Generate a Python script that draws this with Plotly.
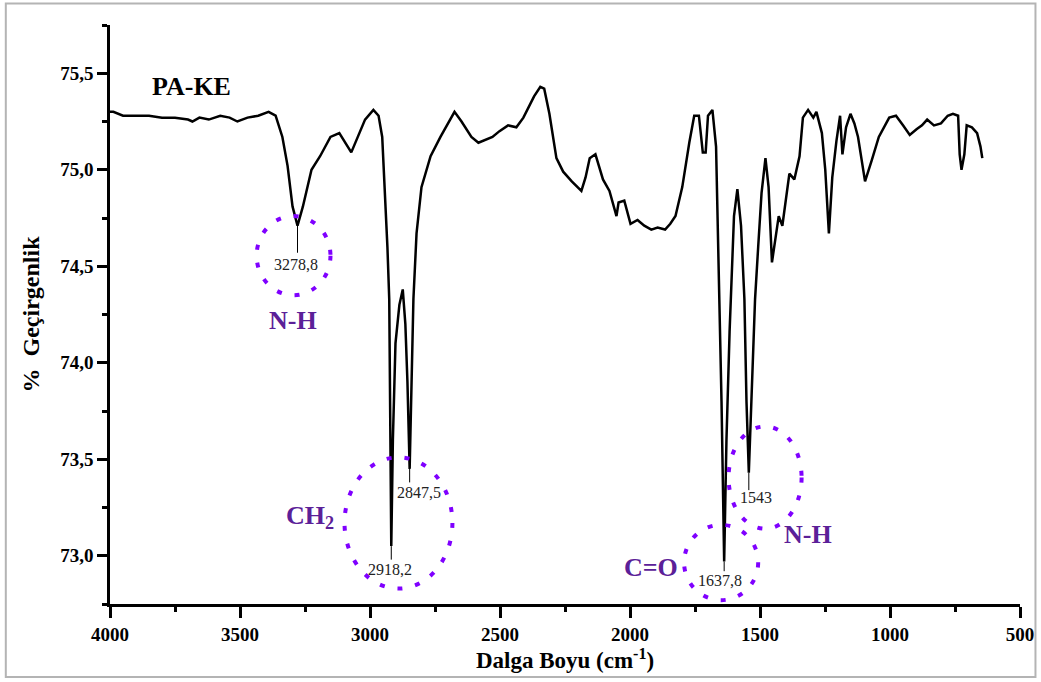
import plotly.graph_objects as go

# ---------------- data ----------------
wavenumber = [4000, 3987, 3950, 3894, 3850, 3800, 3750, 3700, 3683, 3656, 3620, 3576, 3540, 3510, 3471, 3430,
              3390, 3363, 3337, 3317, 3298, 3278.8, 3258, 3225, 3192, 3152, 3118, 3072, 3019, 2987, 2967,
              2953, 2940, 2933, 2926, 2923, 2918.2, 2912, 2902, 2887, 2874, 2864, 2856, 2847.5, 2840, 2833,
              2821, 2802, 2767, 2729, 2675, 2648, 2610, 2583, 2529, 2502, 2469, 2437, 2410, 2369, 2345, 2330,
              2310, 2283, 2257, 2224, 2187, 2171, 2155, 2133, 2104, 2079, 2052, 2044, 2022, 1998, 1971, 1945,
              1918, 1894, 1865, 1845, 1825, 1799, 1772, 1753, 1735, 1720, 1709, 1700, 1683, 1669, 1660, 1648,
              1637.8, 1629, 1617, 1600, 1587, 1573, 1560, 1552, 1543, 1533, 1519, 1507, 1494, 1479, 1467,
              1454, 1441, 1428, 1414, 1402, 1387, 1368, 1348, 1335, 1315, 1295, 1283, 1262, 1249, 1235, 1222,
              1206, 1192, 1183, 1169, 1152, 1137, 1123, 1096, 1070, 1043, 1003, 977, 950, 924, 898, 877, 857,
              831, 804, 778, 758, 738, 732, 725, 714, 705, 685, 665, 652, 645]
transmittance = [75.30, 75.30, 75.28, 75.28, 75.28, 75.27, 75.27, 75.26, 75.25, 75.27, 75.26, 75.28, 75.27, 75.25, 75.27, 75.28,
                 75.30, 75.28, 75.17, 75.02, 74.81, 74.71, 74.81, 75.00, 75.07, 75.17, 75.19, 75.09, 75.26, 75.31, 75.28,
                 75.17, 74.84, 74.60, 74.33, 73.80, 73.05, 73.60, 74.10, 74.30, 74.38, 74.20, 73.90, 73.45, 73.90, 74.33,
                 74.67, 74.91, 75.07, 75.17, 75.30, 75.25, 75.17, 75.14, 75.17, 75.20, 75.23, 75.22, 75.27, 75.38, 75.43, 75.42,
                 75.29, 75.06, 74.99, 74.94, 74.89, 74.96, 75.06, 75.08, 74.95, 74.89, 74.76, 74.83, 74.84, 74.72, 74.74, 74.71,
                 74.69, 74.70, 74.69, 74.72, 74.76, 74.91, 75.14, 75.28, 75.28, 75.09, 75.09, 75.28, 75.31, 75.12, 74.55, 73.80,
                 72.97, 73.60, 74.16, 74.76, 74.90, 74.71, 74.33, 73.80, 73.43, 73.80, 74.33, 74.60, 74.88, 75.06, 74.91,
                 74.52, 74.65, 74.76, 74.71, 74.83, 74.98, 74.95, 75.07, 75.27, 75.31, 75.27, 75.30, 75.19, 75.00, 74.67, 74.96,
                 75.15, 75.28, 75.08, 75.22, 75.29, 75.24, 75.17, 74.94, 75.05, 75.17, 75.27, 75.28, 75.23, 75.18, 75.21, 75.23, 75.26,
                 75.23, 75.24, 75.28, 75.29, 75.28, 75.08, 75.00, 75.08, 75.23, 75.22, 75.19, 75.12, 75.06]

x_tickvals = [4000, 3500, 3000, 2500, 2000, 1500, 1000, 500]
x_ticktext = ["4000", "3500", "3000", "2500", "2000", "1500", "1000", "500"]
y_tickvals = [73.0, 73.5, 74.0, 74.5, 75.0, 75.5]
y_ticktext = ["73,0", "73,5", "74,0", "74,5", "75,0", "75,5"]

peak_wn = [3278.8, 2918.2, 2847.5, 1637.8, 1543]
peak_T = [74.71, 73.05, 73.45, 72.97, 73.43]
leader_end_T = [74.57, 72.98, 73.38, 72.92, 73.34]
peak_labels = ["3278,8", "2918,2", "2847,5", "1637,8", "1543"]
peak_label_wn = [3283, 2925, 2810, 1652, 1517]
peak_label_T = [74.51, 72.93, 73.33, 72.87, 73.30]

group_labels = ["N-H", "CH<sub>2</sub>", "C=O", "N-H"]
group_label_wn = [3295, 3232, 1921, 1317]
group_label_T = [74.22, 73.20, 72.94, 73.11]

# ellipses: (wn_left, wn_right, T_bottom, T_top)
ellipse_wn_left = [3436, 3098, 1792, 1621]
ellipse_wn_right = [3152, 2683, 1507, 1340]
ellipse_T_bottom = [74.35, 72.83, 72.77, 73.14]
ellipse_T_top = [74.76, 73.51, 73.16, 73.67]

sample_name = "PA-KE"
sample_wn = 3686
sample_T = 75.43

# ---------------- figure ----------------
SERIF = "Liberation Serif, Times New Roman, serif"
PURPLE_LINE = "#7F00FF"
PURPLE_TEXT = "#5B2098"

fig = go.Figure()
fig.add_trace(go.Scatter(x=wavenumber, y=transmittance, mode="lines",
                         line=dict(color="black", width=2.5), showlegend=False, hoverinfo="skip"))

shapes = []
for w, t0, t1 in zip(peak_wn, peak_T, leader_end_T):
    shapes.append(dict(type="line", xref="x", yref="y", x0=w, x1=w, y0=t0, y1=t1,
                       line=dict(color="black", width=1)))
for xl, xr, yb, yt in zip(ellipse_wn_left, ellipse_wn_right, ellipse_T_bottom, ellipse_T_top):
    shapes.append(dict(type="circle", xref="x", yref="y", x0=xl, x1=xr, y0=yb, y1=yt,
                       line=dict(color=PURPLE_LINE, width=4, dash="5px,13px")))
# outer frame of the picture
shapes.append(dict(type="rect", xref="paper", yref="paper", x0=-0.1145, x1=1.017, y0=-0.126, y1=1.037,
                   line=dict(color="#b4b4b4", width=2), layer="below"))

annotations = []
for txt, w, t in zip(peak_labels, peak_label_wn, peak_label_T):
    annotations.append(dict(x=w, y=t, xref="x", yref="y", text=txt, showarrow=False,
                            font=dict(family=SERIF, size=16, color="#222222")))
for txt, w, t in zip(group_labels, group_label_wn, group_label_T):
    annotations.append(dict(x=w, y=t, xref="x", yref="y", text="<b>" + txt + "</b>", showarrow=False,
                            font=dict(family=SERIF, size=26, color=PURPLE_TEXT)))
annotations.append(dict(x=sample_wn, y=sample_T, xref="x", yref="y", text="<b>" + sample_name + "</b>",
                        showarrow=False, font=dict(family=SERIF, size=26, color="black")))

fig.update_layout(
    width=1041, height=682,
    margin=dict(l=110, r=21, t=25, b=78),
    paper_bgcolor="white", plot_bgcolor="white",
    shapes=shapes, annotations=annotations,
    font=dict(family=SERIF, color="black"),
)
fig.update_xaxes(
    range=[4000, 500], tickvals=x_tickvals, ticktext=["<b>" + t + "</b>" for t in x_ticktext],
    automargin=False,
    showgrid=False, zeroline=False, showline=True, linecolor="black", linewidth=2.5,
    ticks="outside", ticklen=11, tickwidth=2.5, tickcolor="black",
    minor=dict(ticks="outside", ticklen=5, tickwidth=2.5, tickcolor="black", dtick=250, tick0=500),
    tickfont=dict(family=SERIF, size=19, color="black"),
    title=dict(text="<b>Dalga Boyu (cm<sup>-1</sup>)</b>", font=dict(family=SERIF, size=23, color="black"),
               standoff=4),
)
fig.update_yaxes(
    range=[72.75, 75.75], tickvals=y_tickvals, ticktext=["<b>" + t + "</b>" for t in y_ticktext],
    automargin=False,
    showgrid=False, zeroline=False, showline=True, linecolor="black", linewidth=2.5,
    ticks="outside", ticklen=10, tickwidth=2.5, tickcolor="black",
    minor=dict(ticks="outside", ticklen=5, tickwidth=2.5, tickcolor="black", dtick=0.25, tick0=73.0),
    tickfont=dict(family=SERIF, size=19, color="black"),
    title=dict(text="<b>%  Geçirgenlik</b>", font=dict(family=SERIF, size=24, color="black"), standoff=14),
)

fig.write_html("out.html", config={"displayModeBar": False},
               post_script="document.body.style.margin='0';document.body.style.overflow='hidden';")
